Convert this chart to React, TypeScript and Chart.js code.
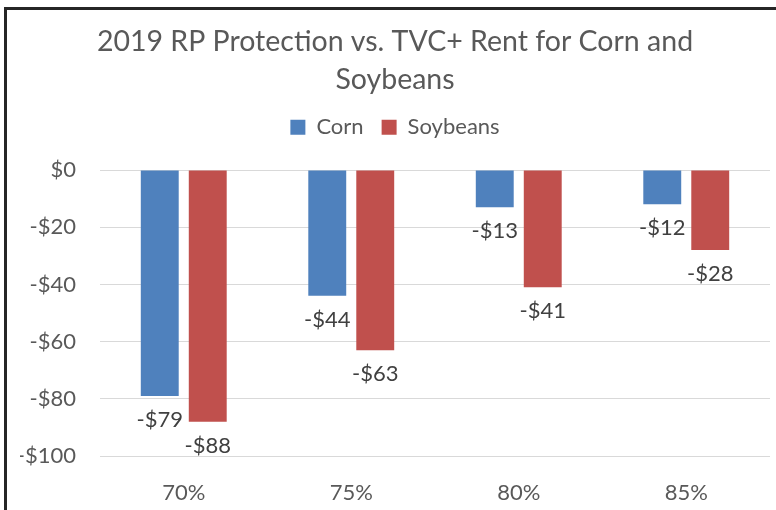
import React, { useEffect, useRef } from "react";
import { Chart, registerables } from "chart.js";

Chart.register(...registerables);

const categories = ["70%", "75%", "80%", "85%"];
const cornValues = [-79, -44, -13, -12];
const soybeanValues = [-88, -63, -41, -28];
const yMin = -100;
const yMax = 0;
const yStep = 20;
const titleLines = ["2019 RP Protection vs. TVC+ Rent for Corn and", "Soybeans"];

const FONT = "Lato, 'Open Sans', sans-serif";
const TEXT = "#595959";
const LABEL = "#404040";

const formatDollar = (v: number) => (v < 0 ? `-$${Math.abs(v)}` : `$${v}`);

const dataLabelPlugin = {
  id: "dataLabels",
  afterDatasetsDraw(chart: any) {
    const ctx = chart.ctx;
    ctx.save();
    ctx.font = `22px ${FONT}`;
    ctx.fillStyle = LABEL;
    ctx.textAlign = "center";
    ctx.textBaseline = "middle";
    chart.data.datasets.forEach((ds: any, i: number) => {
      const meta = chart.getDatasetMeta(i);
      meta.data.forEach((el: any, j: number) => {
        const v = ds.data[j] as number;
        ctx.fillText(formatDollar(v), el.x, el.y + 24);
      });
    });
    ctx.restore();
  },
};

export default function App() {
  const ref = useRef<HTMLCanvasElement | null>(null);

  useEffect(() => {
    if (!ref.current) return;
    const chart = new Chart(ref.current, {
      type: "bar",
      data: {
        labels: categories,
        datasets: [
          {
            label: "Corn",
            data: cornValues,
            backgroundColor: "#4f81bd",
            categoryPercentage: 0.573,
            barPercentage: 0.79,
          },
          {
            label: "Soybeans",
            data: soybeanValues,
            backgroundColor: "#c0504d",
            categoryPercentage: 0.573,
            barPercentage: 0.79,
          },
        ],
      },
      options: {
        responsive: false,
        animation: false,
        layout: { padding: { left: 20, right: 6, top: 0, bottom: 0 } },
        plugins: {
          tooltip: { enabled: false },
          title: {
            display: true,
            text: titleLines,
            color: TEXT,
            font: { family: FONT, size: 28.5, weight: "normal", lineHeight: 1.32 },
            padding: { top: 23, bottom: 0 },
          },
          subtitle: {
            display: true,
            text: "",
            weight: 500,
            font: { family: FONT, size: 1, lineHeight: 1 },
            padding: { top: 20.8, bottom: 0 },
          } as any,
          legend: {
            display: true,
            position: "top",
            labels: {
              boxWidth: 15,
              boxHeight: 15,
              padding: 18,
              color: TEXT,
              font: { family: FONT, size: 22 },
            },
          },
        },
        scales: {
          x: {
            grid: { display: false, drawTicks: false },
            border: { display: false },
            ticks: {
              color: TEXT,
              font: { family: FONT, size: 22 },
              padding: 24,
            },
            afterFit(scale: any) {
              scale.height = 54;
            },
          },
          y: {
            min: yMin,
            max: yMax,
            grid: { color: "#d9d9d9", lineWidth: 1, drawTicks: false },
            border: { display: false },
            ticks: {
              stepSize: yStep,
              color: TEXT,
              font: { family: FONT, size: 22 },
              padding: 24,
              callback: (v: any) => formatDollar(Number(v)),
            },
            afterFit(scale: any) {
              scale.width = 80;
            },
          },
        },
      },
      plugins: [dataLabelPlugin],
    });
    return () => chart.destroy();
  }, []);

  return (
    <div
      style={{
        position: "fixed",
        left: 0,
        top: 0,
        width: 776,
        height: 510,
        overflow: "hidden",
        background: "#ffffff",
      }}
    >
      <div
        style={{
          position: "absolute",
          left: 4,
          top: 7,
          width: 820,
          height: 620,
          border: "3px solid #262626",
          boxSizing: "border-box",
        }}
      />
      <canvas
        ref={ref}
        width={776}
        height={510}
        style={{ position: "absolute", left: 0, top: 0 }}
      />
    </div>
  );
}
